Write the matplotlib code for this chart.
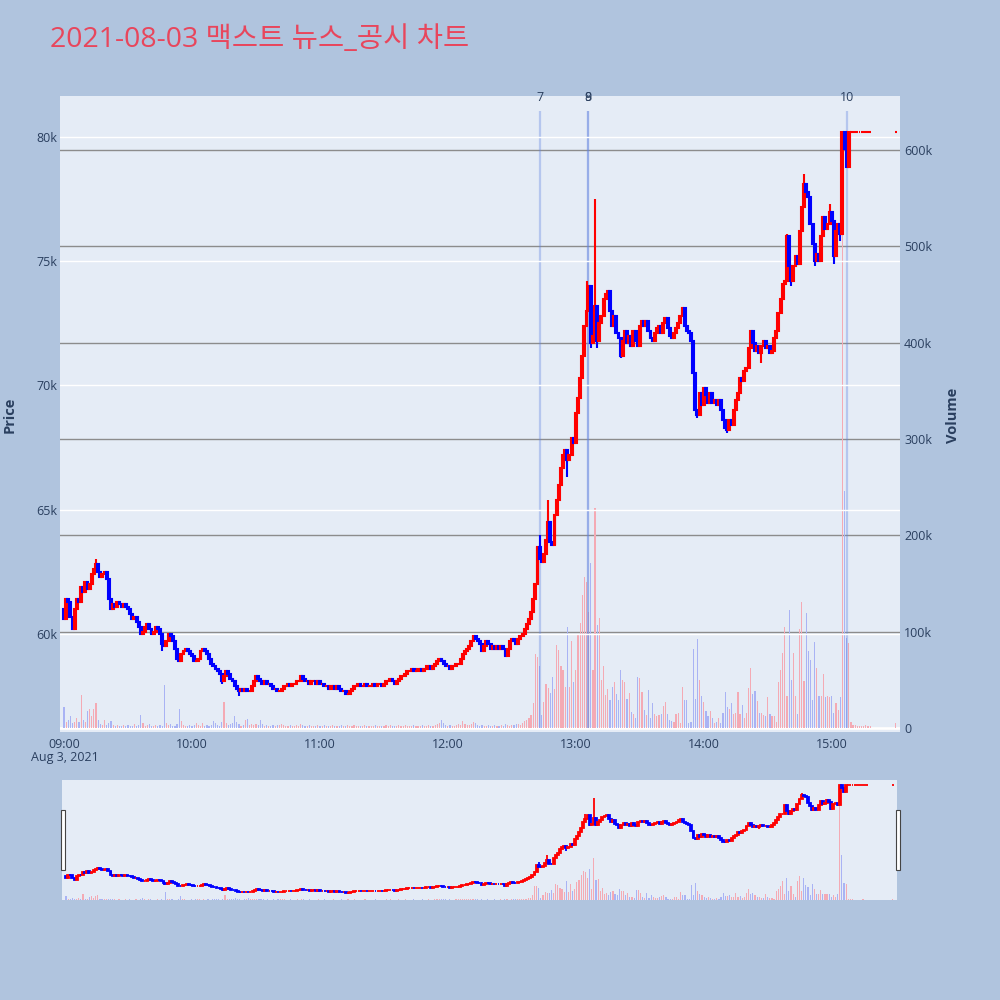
import numpy as np
import matplotlib
matplotlib.use("Agg")
import matplotlib.pyplot as plt
from matplotlib.patches import Rectangle

plt.rcParams['font.family'] = ['Open Sans', 'Noto Sans CJK KR', 'DejaVu Sans']

# ---------------- data (1-minute candles from 09:00) ----------------
TITLE = "2021-08-03 맥스트 뉴스_공시 차트"
FIRST_OPEN = 61000
CLOSE = [
    60600, 61400, 61300, 60700, 60200, 61000, 61400, 61300, 61900, 61700,
    62100, 61800, 62000, 62400, 62600, 62800, 62500, 62300, 62400, 62500,
    62200, 61400, 61000, 61200, 61100, 61300, 61200, 61100, 61200, 61100,
    61000, 60800, 60600, 60700, 60500, 60300, 60000, 60100, 60300, 60400,
    60200, 60000, 60100, 60300, 60200, 60000, 59600, 59500, 59700, 60000,
    59900, 59700, 59400, 59000, 58900, 59200, 59300, 59400, 59300, 59200,
    59100, 58900, 58900, 59000, 59300, 59400, 59300, 59200, 59000, 58800,
    58700, 58600, 58500, 58400, 58100, 58300, 58500, 58400, 58200, 58100,
    57900, 57800, 57700, 57800, 57700, 57800, 57700, 57700, 57900, 58100,
    58300, 58200, 58100, 58000, 58100, 58000, 58000, 57900, 57800, 57800,
    57700, 57700, 57800, 57900, 57900, 58000, 57900, 58000, 58000, 58100,
    58100, 58300, 58200, 58100, 58100, 58000, 58100, 58100, 58000, 58100,
    58000, 58000, 57900, 57900, 57800, 57900, 57900, 57800, 57900, 57800,
    57700, 57700, 57600, 57600, 57700, 57800, 57900, 57900, 58000, 57900,
    57900, 58000, 57900, 57900, 57900, 58000, 57900, 58000, 58000, 57900,
    58000, 58100, 58100, 58200, 58100, 58000, 58100, 58200, 58300, 58300,
    58400, 58500, 58500, 58600, 58500, 58500, 58600, 58600, 58500, 58600,
    58700, 58700, 58600, 58700, 58800, 58900, 59000, 58900, 58800, 58700,
    58700, 58600, 58700, 58700, 58800, 58800, 59000, 59200, 59300, 59400,
    59500, 59700, 59900, 59800, 59700, 59600, 59300, 59500, 59700, 59600,
    59400, 59500, 59400, 59500, 59400, 59500, 59400, 59100, 59400, 59700,
    59800, 59700, 59600, 59800, 59900, 60000, 60200, 60400, 60600, 60900,
    61400, 62000, 63500, 63000, 62900, 63200, 63800, 64500, 63700, 63600,
    64800, 65400, 66000, 66700, 67200, 67400, 67000, 67200, 67900, 67700,
    68900, 69500, 70300, 71200, 72400, 73000, 74000, 71700, 72000, 73200,
    71800, 72500, 72800, 73500, 73700, 73800, 73000, 72400, 72800, 72100,
    71900, 71200, 71800, 72200, 71700, 72000, 71600, 72200, 71800, 71600,
    72400, 72600, 72400, 72600, 72200, 71900, 71800, 72100, 72300, 72400,
    72100, 72500, 72700, 72300, 72000, 71900, 72100, 72300, 72500, 72800,
    73100, 72400, 72200, 72100, 71800, 70500, 69000, 68800, 69700, 69200,
    69900, 69600, 69300, 69700, 69300, 69400, 69200, 69400, 69000, 68600,
    68300, 68200, 68600, 68400, 69000, 69400, 69700, 70300, 70200, 70600,
    70700, 71500, 72200, 71700, 71400, 71600, 71300, 71600, 71800, 71500,
    71600, 71300, 71400, 71900, 72200, 72900, 73500, 74100, 74200, 76000,
    74800, 74200, 74800, 75200, 74900, 76200, 77200, 78100, 77800, 77600,
    76500, 75700, 75000, 75300, 75000, 76000, 76800, 76300, 76500, 77000,
    76600, 75200, 76200, 76500, 76100, 80200, 79500, 78800, 80200, 80200,
    80200, 80200, 80200, 80200, 80200, 80200, 80200, 80200, 80200,
]
# wick extremes where the high / low leave the body
HIGH_WICK = {15: 63000, 223: 64000, 227: 65400, 245: 74200, 249: 77500,
             290: 73100, 339: 76100, 347: 78500, 359: 77300}
LOW_WICK = {46: 59300, 74: 58000, 82: 57500, 236: 66300, 247: 71500,
            250: 71500, 261: 71100, 297: 68700, 311: 68100, 327: 70900,
            341: 74000, 352: 74800, 361: 74900, 364: 75800, 365: 76300}
VOLUME_K = [
    22, 6, 8, 12, 5, 6, 10, 6, 34, 8,
    6, 18, 20, 12, 20, 26, 8, 4, 3, 8,
    3, 5, 7, 3, 2, 3, 2, 2, 3, 2,
    3, 2, 2, 4, 2, 3, 13, 5, 2, 3,
    4, 2, 2, 3, 2, 3, 2, 45, 5, 3,
    4, 2, 2, 4, 20, 7, 3, 2, 2, 3,
    2, 3, 5, 3, 2, 5, 2, 3, 2, 3,
    7, 5, 3, 2, 6, 27, 5, 3, 4, 5,
    12, 6, 4, 2, 3, 8, 9, 3, 4, 3,
    4, 3, 8, 4, 2, 3, 2, 2, 3, 2,
    3, 3, 4, 3, 2, 2, 3, 2, 2, 3,
    2, 4, 3, 2, 2, 3, 2, 2, 2, 3,
    2, 2, 3, 2, 2, 2, 3, 2, 2, 2,
    3, 2, 2, 3, 2, 2, 3, 2, 2, 2,
    2, 3, 2, 2, 2, 2, 3, 2, 2, 2,
    2, 3, 2, 3, 2, 2, 2, 3, 2, 2,
    3, 2, 2, 2, 3, 2, 2, 2, 3, 2,
    2, 3, 2, 2, 3, 4, 5, 8, 5, 3,
    2, 3, 2, 2, 3, 4, 3, 7, 4, 3,
    3, 4, 6, 5, 3, 2, 3, 2, 2, 3,
    2, 2, 3, 2, 2, 3, 2, 4, 3, 2,
    3, 3, 4, 4, 3, 5, 7, 8, 10, 13,
    26, 77, 74, 64, 13, 27, 46, 41, 36, 53,
    40, 86, 81, 64, 60, 43, 105, 43, 90, 48,
    60, 97, 109, 138, 157, 152, 120, 171, 60, 228,
    107, 114, 50, 64, 34, 40, 29, 43, 48, 35,
    29, 60, 50, 48, 30, 36, 17, 14, 10, 53,
    52, 37, 19, 13, 39, 10, 26, 14, 12, 13,
    14, 23, 27, 14, 8, 7, 6, 14, 16, 5,
    43, 29, 29, 5, 6, 82, 30, 92, 50, 33,
    27, 18, 12, 18, 10, 5, 6, 10, 5, 16,
    37, 22, 20, 26, 14, 16, 37, 14, 24, 10,
    16, 41, 62, 35, 38, 28, 16, 16, 13, 12,
    32, 14, 12, 12, 6, 48, 60, 78, 105, 33,
    122, 50, 78, 33, 14, 103, 131, 49, 119, 80,
    71, 29, 89, 62, 33, 33, 56, 32, 33, 32,
    33, 16, 26, 19, 32, 560, 246, 93, 88, 6,
    3, 3, 2, 2, 2, 2, 3, 2, 2,
]
CLOSING_MINUTE = 390          # 15:30 closing print
CLOSING_PRICE = 80200
CLOSING_VOLUME_K = 5

NEWS_LABELS = ["7", "8", "9", "10"]
NEWS_MINUTE = [223.2, 245.8, 245.8, 367.1]
NEWS_HEIGHT_K = 640

HOUR_TICKS = [0, 60, 120, 180, 240, 300, 360]
HOUR_LABELS = ["09:00", "10:00", "11:00", "12:00", "13:00", "14:00", "15:00"]
PRICE_TICKS = [60000, 65000, 70000, 75000, 80000]
PRICE_LABELS = ["60k", "65k", "70k", "75k", "80k"]
VOL_TICKS = [0, 100, 200, 300, 400, 500, 600]
VOL_LABELS = ["0", "100k", "200k", "300k", "400k", "500k", "600k"]

# ---------------- build OHLC ----------------
close = np.array(CLOSE + [CLOSING_PRICE], dtype=float)
x = np.r_[np.arange(len(CLOSE)), CLOSING_MINUTE].astype(float)
opn = np.r_[FIRST_OPEN, close[:-1]]
opn[-1] = CLOSING_PRICE
high = np.maximum(opn, close)
low = np.minimum(opn, close)
for k, v in HIGH_WICK.items():
    high[k] = max(high[k], v)
for k, v in LOW_WICK.items():
    low[k] = min(low[k], v)
vol = np.array(VOLUME_K + [CLOSING_VOLUME_K], dtype=float)
up = close >= opn
ccol = np.where(up, '#ff0000', '#0000ff')
vcol = np.where(up, '#f4aab4', '#a9b3f4')

BG = '#b0c4de'
PLOT_BG = '#e5ecf6'
TXT = '#2a3f5f'

fig = plt.figure(figsize=(10, 10), dpi=100, facecolor=BG)


def draw(axp, axv, body_w, lw, news):
    axv.set_facecolor(PLOT_BG)
    axv.bar(x, vol, width=0.55, color=vcol, linewidth=0, zorder=2)
    if news:
        for m, lab in zip(NEWS_MINUTE, NEWS_LABELS):
            axv.vlines(m, 0, NEWS_HEIGHT_K, color='#6283e0', alpha=0.36,
                       lw=1.6, zorder=3)
            axv.annotate(lab, (m, NEWS_HEIGHT_K), xytext=(0, 5),
                         textcoords='offset points', ha='center', va='bottom',
                         fontsize=9, color=TXT, annotation_clip=False)
    axp.set_zorder(axv.get_zorder() + 1)
    axp.patch.set_visible(False)
    axp.vlines(x, low, high, colors=ccol, lw=lw, zorder=3)
    axp.bar(x, np.abs(close - opn), bottom=np.minimum(opn, close),
            width=body_w, color=ccol, edgecolor=ccol, linewidth=lw, zorder=4)
    for a in (axp, axv):
        for s in a.spines.values():
            s.set_visible(False)
    axp.set_xlim(-1.9, 392)


# ---------------- main chart ----------------
axv = fig.add_axes([0.06, 0.268, 0.84, 0.636])
ax = axv.twinx()
ax.yaxis.set_label_position('left')
ax.yaxis.tick_left()
axv.yaxis.tick_right()
draw(ax, axv, 0.9, 1.5, True)

ax.set_ylim(56056, 81650)
axv.set_ylim(-4.2, 656)

axv.set_yticks(VOL_TICKS)
axv.set_yticklabels(VOL_LABELS)
axv.grid(axis='y', color='#8c8c8c', lw=1.0, zorder=0)
axv.axhline(0, color='white', lw=2, zorder=1)
axv.tick_params(axis='y', length=0, pad=3, labelsize=9, labelcolor=TXT,
                right=False, labelright=True, left=False, labelleft=False)

ax.set_yticks(PRICE_TICKS)
ax.set_yticklabels(PRICE_LABELS)
ax.grid(axis='y', color='white', lw=1.0, zorder=1)
ax.tick_params(axis='y', length=0, pad=2, labelsize=9, labelcolor=TXT,
               left=False, labelleft=True, right=False, labelright=False)

axv.set_xticks(HOUR_TICKS)
axv.set_xticklabels(HOUR_LABELS)
axv.tick_params(axis='x', length=0, pad=4, labelsize=9, labelcolor=TXT)
ax.set_axisbelow(True)
axv.set_axisbelow(True)

fig.text(0.065, 0.242, "Aug 3, 2021", ha='center', va='center',
         fontsize=9, color=TXT)
fig.text(0.010, 0.585, "Price", rotation=90, ha='center', va='center',
         fontsize=10.5, color=TXT, fontweight='bold')
fig.text(0.953, 0.585, "Volume", rotation=90, ha='center', va='center',
         fontsize=10.5, color=TXT, fontweight='bold')
fig.text(0.05, 0.96, TITLE, ha='left', va='center', fontsize=20.5,
         color='#e8465c')

# ---------------- range slider ----------------
sv = fig.add_axes([0.062, 0.1, 0.835, 0.12])
sp = sv.twinx()
draw(sp, sv, 0.9, 1.3, False)
sp.set_ylim(56056, 81250)
sv.set_ylim(0, 656)
for a in (sv, sp):
    a.set_xticks([])
    a.set_yticks([])

for hx in (0.0605, 0.8955):
    fig.patches.append(Rectangle((hx, 0.130), 0.004, 0.06,
                                 transform=fig.transFigure, facecolor='white',
                                 edgecolor='#444444', lw=0.8))

fig.savefig("out.png", dpi=100, facecolor=BG)
